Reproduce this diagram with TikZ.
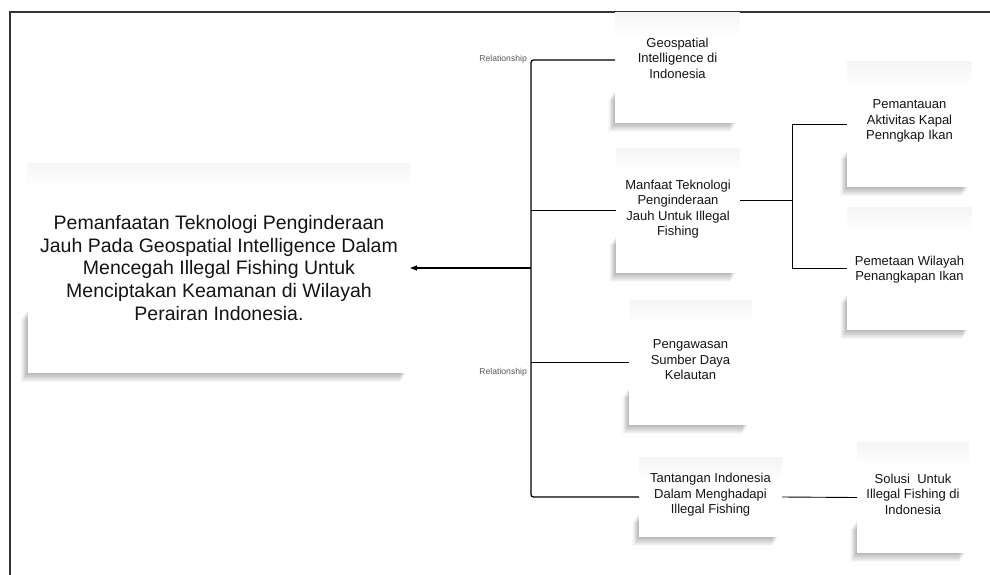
\documentclass[tikz,border=0pt]{standalone}
\usepackage{fontspec}
\setmainfont{Liberation Sans}
\usetikzlibrary{arrows.meta}
\definecolor{txt}{HTML}{141414}
\tikzset{
  notefill/.style={fill=white, draw=none, inner sep=0pt, outer sep=0pt, rectangle},
  bigtext/.style={text=txt, align=center, inner sep=0pt, font=\fontsize{19.5}{22.8}\selectfont},
  smalltext/.style={text=txt, align=center, inner sep=0pt, font=\fontsize{13}{15.5}\selectfont},
  rellabel/.style={text=black!65, inner sep=0pt, font=\fontsize{8.6}{10}\selectfont},
  conn/.style={draw=black, line width=0.9pt},
  trunk/.style={draw=black, line width=1.3pt},
}
\newcommand\notebox[5]{%
  \foreach \k in {1,...,12}{
    \fill[black,opacity=0.022] ({#2-\k*0.55}, {#5+\k*0.75}) rectangle ({#4-4-\k*0.5}, {#5-0.3*(#5-#3)+\k*0.8});
  }
  \node[notefill, anchor=north west, minimum width={(#4-#2)*1pt}, minimum height={(#5-#3)*1pt}] (#1) at (#2,#3) {};
  \shade[top color=black!4, bottom color=white] (#2,#3) rectangle (#4,{#3+24});
}
\begin{document}
\begin{tikzpicture}[x=1pt,y=-1pt]
\useasboundingbox (0,0) rectangle (990,575);
\fill[white] (0,0) rectangle (990,575);
% frame
\draw[line width=1.4pt, black!80] (990,12) -- (10,12) -- (10,575);

% boxes
\notebox{main}{27.5}{163}{410}{373}
\notebox{geo}{615}{13}{740}{123}
\notebox{man}{616}{148}{740}{273}
\notebox{pem}{847}{62}{972}{187}
\notebox{pmt}{847}{207}{972}{330}
\notebox{peng}{629}{300}{752}{425}
\notebox{tan}{639}{457}{782}{537}
\notebox{sol}{857}{442}{969}{553}

% texts
\node[bigtext] (main-t) at (219,268) {Pemanfaatan Teknologi Penginderaan\\Jauh Pada Geospatial Intelligence Dalam\\Mencegah Illegal Fishing Untuk\\Menciptakan Keamanan di Wilayah\\Perairan Indonesia.};
\node[smalltext] (geo-t) at (677.5,58) {Geospatial\\Intelligence di\\Indonesia};
\node[smalltext] (man-t) at (678,209) {Manfaat Teknologi\\Penginderaan\\Jauh Untuk Illegal\\Fishing};
\node[smalltext] (pem-t) at (909.5,121) {Pemantauan\\Aktivitas Kapal\\Penngkap Ikan};
\node[smalltext] (pmt-t) at (909.5,269.5) {Pemetaan Wilayah\\Penangkapan Ikan};
\node[smalltext] (peng-t) at (690.5,360) {Pengawasan\\Sumber Daya\\Kelautan};
\node[smalltext] (tan-t) at (710.5,495) {Tantangan Indonesia\\Dalam Menghadapi\\Illegal Fishing};
\node[smalltext] (sol-t) at (913,494) {Solusi\ \ Untuk\\Illegal Fishing di\\Indonesia};

% connectors
\coordinate (tTop) at (531,60);
\coordinate (tBot) at (531,497);
\coordinate (j1) at (792,200);
\draw[trunk, rounded corners=2.5pt] (geo.west |- tTop) -- (tTop) -- (tBot) -- (tan.west);
\draw[trunk] (tTop |- man.west) -- (man.west);
\draw[trunk] (tTop |- peng.west) -- (peng.west);
\draw[trunk, -{Triangle[length=7pt,width=5pt]}] (tTop |- main.east) -- (main.east);
\draw[conn] (man.east |- j1) -- (j1);
\draw[conn] (pem.west) -| (j1) |- (pmt.west);
\draw[conn] (tan.east) -- (sol.west);

% relationship labels
\node[rellabel, anchor=east] (rel1) at (527,59.5) {Relationship};
\node[rellabel, anchor=east] (rel2) at (527,372) {Relationship};
\end{tikzpicture}
\end{document}
